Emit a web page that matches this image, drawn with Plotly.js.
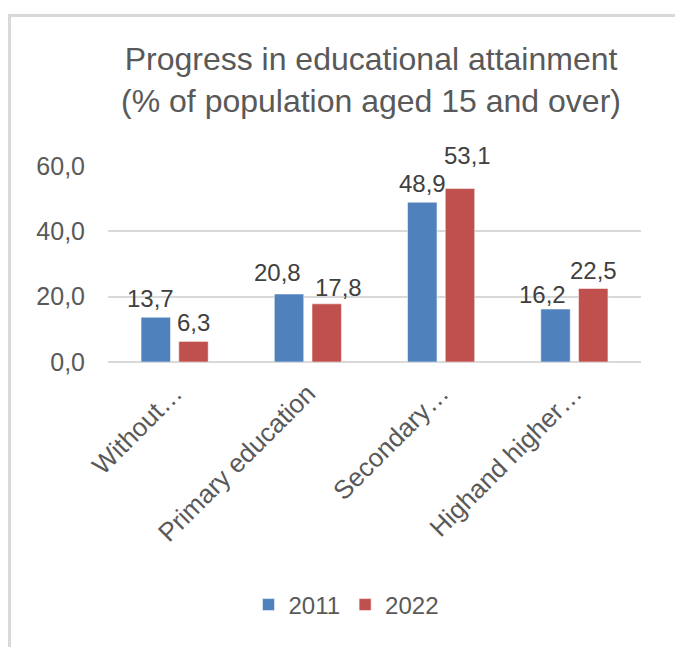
<!DOCTYPE html>
<html>
<head>
<meta charset="utf-8">
<script src="https://cdn.plot.ly/plotly-3.0.1.min.js"></script>
<style>
  html, body { margin: 0; padding: 0; width: 675px; height: 647px; overflow: hidden; background: #ffffff; }
  #frame { position: absolute; left: 8px; top: 14px; width: 900px; height: 900px; border: 3px solid #d9d9d9; box-sizing: border-box; }
  #chart { position: absolute; left: 0; top: 0; width: 675px; height: 647px; }
</style>
</head>
<body>
<div id="frame"></div>
<div id="chart"></div>
<script>
const categories = ["Without…", "Primary education", "Secondary…", "Highand higher…"];
const values2011 = [13.7, 20.8, 48.9, 16.2];
const values2022 = [6.3, 17.8, 53.1, 22.5];
const seriesNames = ["2011", "2022"];
const yTicks = [0, 20, 40, 60];

// style: small manual nudges of individual data labels (px), as in the source chart
const labelNudge = {
  "0-0": [-5, 0], "0-1": [-11, 3], "0-3": [-13, -4],
  "1-1": [12, -2], "1-2": [7, 15]
};

const fmt = v => v.toFixed(1).replace('.', ',');
const FONT = '"Liberation Sans", Arial, sans-serif';
const colors = ['#4f81bd', '#c0504d'];
const series = [values2011, values2022];
const groupOffset = 19; // half of a bar slot, px

const traces = series.map((vals, s) => ({
  type: 'bar', name: seriesNames[s], x: categories, y: vals,
  marker: { color: colors[s], line: { color: '#ffffff', width: 0.5 } },
  hoverinfo: 'none'
}));

const annotations = [];
series.forEach((vals, s) => {
  vals.forEach((v, i) => {
    const n = labelNudge[s + '-' + i] || [0, 0];
    annotations.push({
      x: categories[i], y: v, xref: 'x', yref: 'y',
      text: fmt(v), showarrow: false,
      xanchor: 'center', yanchor: 'bottom',
      xshift: (s === 0 ? -groupOffset : groupOffset) + n[0],
      yshift: 3 + n[1],
      font: { family: FONT, size: 24, color: '#404040' }
    });
  });
});

const layout = {
  width: 675, height: 647,
  paper_bgcolor: 'rgba(0,0,0,0)', plot_bgcolor: 'rgba(0,0,0,0)',
  margin: { l: 108, r: 34, t: 166, b: 285 },
  separators: ', ',
  font: { family: FONT, color: '#595959' },
  title: {
    text: 'Progress in educational attainment<br>(% of population aged 15 and over)',
    font: { family: FONT, size: 32, color: '#595959' },
    x: 371 / 675, xref: 'container', xanchor: 'center',
    y: 1 - 70 / 647, yref: 'container', yanchor: 'middle'
  },
  barmode: 'group', bargap: 0.434, bargroupgap: 0.22,
  xaxis: {
    type: 'category', tickangle: -45,
    tickfont: { family: FONT, size: 26, color: '#595959' },
    showgrid: false, zeroline: false, showline: false, ticks: '',
    ticklabelstandoff: 10
  },
  yaxis: {
    range: [0, 60], tickvals: yTicks, tickformat: '.1f',
    tickfont: { family: FONT, size: 25, color: '#595959' },
    showgrid: true, gridcolor: '#d9d9d9', gridwidth: 2,
    zeroline: true, zerolinecolor: '#d9d9d9', zerolinewidth: 2,
    showline: false, ticks: '', ticklabelstandoff: 22
  },
  annotations: annotations,
  showlegend: true,
  legend: {
    orientation: 'h', x: 346 / 675, xref: 'container', xanchor: 'center',
    y: 1 - 605 / 647, yref: 'container', yanchor: 'middle',
    font: { family: FONT, size: 24, color: '#595959' },
    itemwidth: 30, tracegroupgap: 0
  }
};

Plotly.newPlot('chart', traces, layout, { displayModeBar: false, staticPlot: true });
</script>
</body>
</html>
